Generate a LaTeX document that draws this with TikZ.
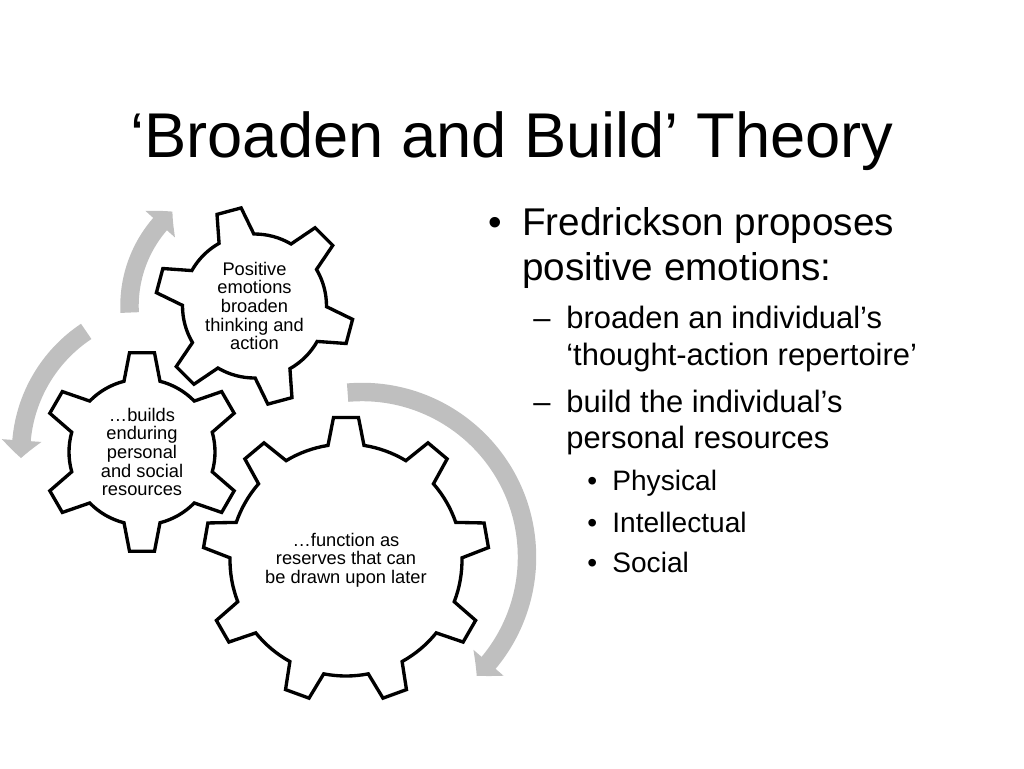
\documentclass[tikz,border=0pt]{standalone}
\usepackage{fontspec}
\setmainfont{Liberation Sans}
\usetikzlibrary{arrows.meta,bending}
\definecolor{arrowgray}{RGB}{191,191,191}
\tikzset{
  gear/.style={draw=black, line width=1.9pt, fill=white, line join=miter},
  geartext/.style={align=center, inner sep=0pt, font=\fontsize{10.4}{10.6}\selectfont},
  cyclearrow/.style={draw=arrowgray, line width=10.5pt, -{Triangle[bend, width=22pt, length=10pt]}},
  lvlone/.style={anchor=base west, inner sep=0pt, font=\fontsize{22}{26}\selectfont},
  lvltwo/.style={anchor=base west, inner sep=0pt, font=\fontsize{17.6}{21}\selectfont},
  lvlthree/.style={anchor=base west, inner sep=0pt, font=\fontsize{16}{19}\selectfont}
}
\newcommand{\drawgear}[5]{%
  \pgfmathsetmacro\tiphalf{asin(12.5/#4)}%
  \pgfmathsetmacro\roothalf{asin(18/#3)}%
  \pgfmathsetmacro\pitch{360/#2}%
  \pgfmathtruncatemacro\lastk{#2-1}%
  \draw[gear, shift={(#1)}] ({#5-\roothalf}:#3)
    \foreach \k in {0,...,\lastk}{
      -- ({#5+\k*\pitch-\tiphalf}:#4) -- ({#5+\k*\pitch+\tiphalf}:#4)
      -- ({#5+\k*\pitch+\roothalf}:#3)
      arc[start angle={#5+\k*\pitch+\roothalf}, end angle={#5+(\k+1)*\pitch-\roothalf}, radius=#3]
    } -- cycle;
}
\begin{document}
\begin{tikzpicture}[x=0.02cm, y=0.02cm]
  \useasboundingbox (0,0) rectangle (1024,-768);
  \coordinate (c1) at (254.5,-306);
  \coordinate (c2) at (142,-452);
  \coordinate (c3) at (346,-560);
  \coordinate (a2) at (167,-453);
  \coordinate (a3) at (362,-557);

  \node[anchor=base, inner sep=0pt, font=\fontsize{36}{40}\selectfont] (title) at (512,-157)
    {‘Broaden and Build’ Theory};

  \draw[cyclearrow] ([shift={(183:125)}]c1) arc[start angle=183, end angle=131, radius=125];
  \draw[cyclearrow] ([shift={(123.6:146)}]a2) arc[start angle=123.6, end angle=182, radius=146];
  \draw[cyclearrow] ([shift={(95:165)}]a3) arc[start angle=95, end angle=-46, radius=165];

  \drawgear{c1}{6}{72}{99}{45}
  \drawgear{c2}{6}{73}{100}{30}
  \drawgear{c3}{9}{116}{143}{90}

  \node[geartext] (broaden) at (c1) {Positive\\emotions\\broaden\\thinking and\\action};
  \node[geartext] (builds) at (c2) {…builds\\enduring\\personal\\and social\\resources};
  \node[geartext] (reserves) at (c3) {…function as\\reserves that can\\be drawn upon later};

  \node[lvlone] (dot1) at (488,-235) {•};
  \node[lvlone] (fred) at (522,-235) {Fredrickson proposes};
  \node[lvlone] (posemo) at (522,-280) {positive emotions:};
  \node[lvltwo] (dash1) at (533,-328) {–};
  \node[lvltwo] (broadenline) at (566,-328) {broaden an individual’s};
  \node[lvltwo] (repertoire) at (566,-365) {‘thought-action repertoire’};
  \node[lvltwo] (dash2) at (533,-412) {–};
  \node[lvltwo] (buildline) at (566,-412) {build the individual’s};
  \node[lvltwo] (resources) at (566,-448) {personal resources};
  \node[lvlthree] (dot2) at (587,-490) {•};
  \node[lvlthree] (physical) at (612,-490) {Physical};
  \node[lvlthree] (dot3) at (587,-532) {•};
  \node[lvlthree] (intellectual) at (612,-532) {Intellectual};
  \node[lvlthree] (dot4) at (587,-572) {•};
  \node[lvlthree] (social) at (612,-572) {Social};
\end{tikzpicture}
\end{document}
